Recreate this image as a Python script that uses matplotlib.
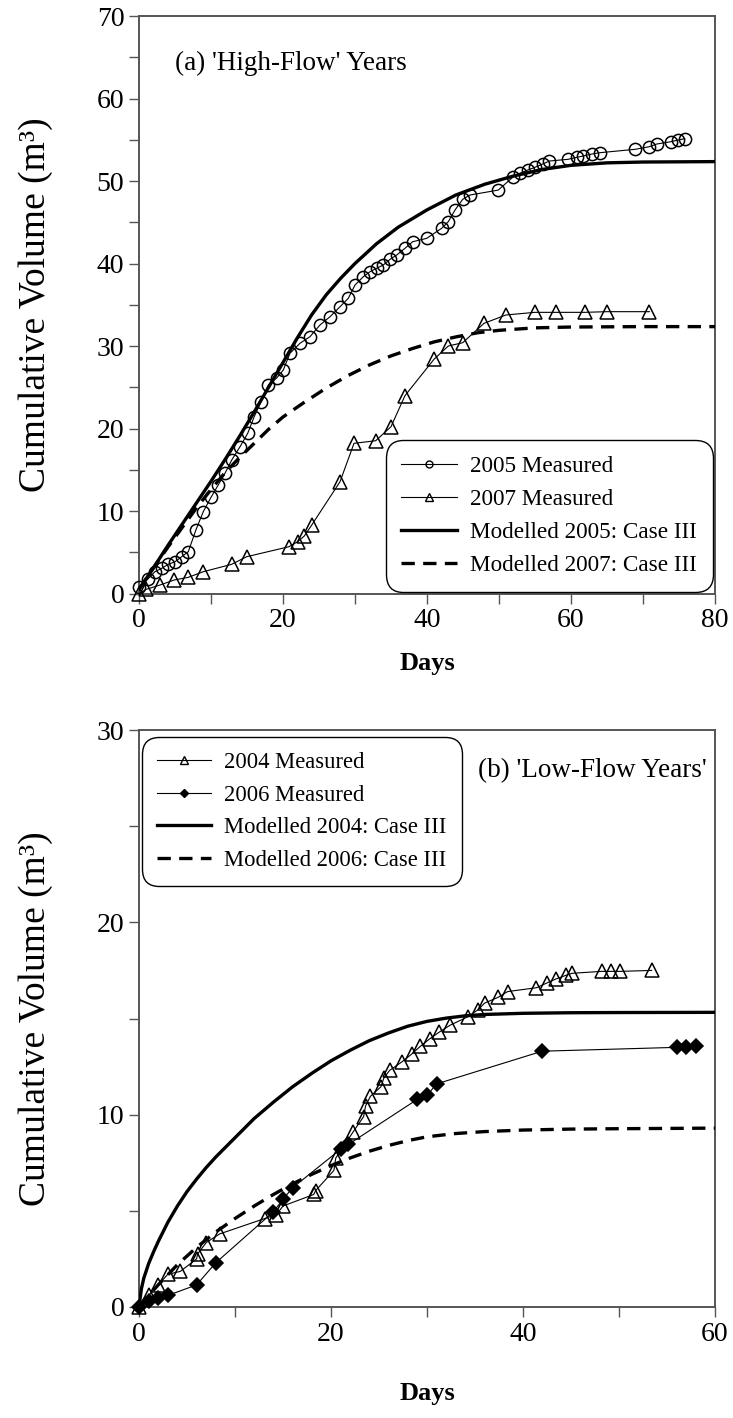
import matplotlib
matplotlib.use("Agg")
import matplotlib.pyplot as plt
from matplotlib.ticker import MultipleLocator
from matplotlib.lines import Line2D

plt.rcParams['font.family'] = ['Liberation Serif', 'DejaVu Serif']

# ---------------- (a) high-flow years ----------------
days_2005 = [0, 1.2, 2.2, 3.15, 4.07, 5.0, 5.93, 6.85, 7.9, 8.93, 10.0, 11.0, 11.94, 12.88,
             14.03, 15.1, 16.0, 16.94, 17.96, 19.1, 20.04, 20.97, 22.36, 23.75, 25.14, 26.53,
             27.92, 29.07, 30.0, 31.15, 32.08, 33.0, 33.93, 34.86, 35.79, 36.94, 38.01, 39.96,
             42.04, 42.96, 43.89, 44.96, 45.97, 49.9, 51.9, 52.9, 54.0, 55.0, 56.07, 57.0,
             59.6, 60.8, 61.7, 62.9, 64.0, 68.9, 70.9, 71.9, 73.85, 74.9, 75.8]
vol_2005 = [0.8, 1.72, 2.64, 3.05, 3.54, 3.85, 4.46, 5.07, 7.7, 9.92, 11.66, 13.15, 14.57, 16.18,
            17.79, 19.42, 21.43, 23.25, 25.27, 26.1, 27.09, 29.12, 30.33, 31.13, 32.55, 33.55,
            34.76, 35.78, 37.39, 38.4, 39.0, 39.42, 39.82, 40.5, 41.03, 41.84, 42.64, 43.05,
            44.27, 45.07, 46.48, 47.78, 48.3, 48.9, 50.45, 50.93, 51.33, 51.66, 52.06, 52.42,
            52.63, 52.87, 53.03, 53.27, 53.43, 53.84, 54.16, 54.48, 54.76, 54.97, 55.13]

days_2007 = [0, 1.0, 2.92, 4.9, 6.85, 8.93, 12.88, 14.96, 20.83, 22.04, 22.96, 23.99, 27.92,
             29.86, 32.88, 35.0, 36.94, 40.97, 42.96, 44.96, 47.92, 50.97, 55.0, 57.9, 61.9,
             64.96, 70.9]
vol_2007 = [0, 0.5, 1.03, 1.64, 1.96, 2.64, 3.54, 4.46, 5.67, 6.28, 6.97, 8.3, 13.55,
            18.2, 18.52, 20.22, 23.98, 28.39, 30.0, 30.4, 32.75, 33.76, 34.08, 34.08, 34.08,
            34.16, 34.16]

mod_days_2005 = [0, 2, 4, 6, 8, 10, 12, 14, 16, 18, 20, 22, 24, 26, 28, 30, 33, 36, 40, 44,
                 48, 52, 56, 60, 65, 70, 80]
mod_vol_2005 = [0.5, 3.1, 5.8, 8.4, 11.0, 13.6, 16.3, 19.1, 22.0, 25.0, 28.0, 31.0, 33.8, 36.2,
                38.2, 40.0, 42.4, 44.4, 46.5, 48.3, 49.6, 50.6, 51.4, 51.9, 52.2, 52.3, 52.35]

mod_days_2007 = [0, 2, 4, 6, 8, 10, 12, 14, 16, 18, 20, 23, 26, 29, 32, 35, 38, 41, 44, 47,
                 50, 55, 60, 70, 80]
mod_vol_2007 = [0.5, 3.1, 5.6, 8.0, 10.4, 12.6, 14.7, 16.5, 18.2, 19.9, 21.4, 23.2, 24.9, 26.4,
                27.7, 28.8, 29.7, 30.5, 31.1, 31.6, 31.9, 32.2, 32.3, 32.35, 32.35]

# ---------------- (b) low-flow years ----------------
days_2004 = [0, 1.0, 2.0, 3.0, 4.3, 6.0, 6.1, 7.0, 8.4, 13.1, 14.3, 15.0, 18.2, 18.4, 20.3,
             20.5, 22.3, 23.4, 23.6, 24.1, 25.2, 25.5, 26.1, 27.4, 28.4, 29.3, 30.3, 31.3,
             32.4, 34.3, 35.3, 36.0, 37.4, 38.4, 41.4, 42.5, 43.4, 44.5, 45.1, 48.2, 49.2,
             50.1, 53.4]
vol_2004 = [0, 0.6, 1.15, 1.7, 1.85, 2.5, 2.75, 3.35, 3.8, 4.6, 4.8, 5.25, 5.85, 6.05, 7.1,
            7.75, 9.1, 9.9, 10.45, 10.95, 11.45, 11.9, 12.3, 12.75, 13.15, 13.55, 13.95, 14.3,
            14.65, 15.1, 15.45, 15.8, 16.1, 16.4, 16.6, 16.85, 17.05, 17.25, 17.35, 17.45,
            17.45, 17.45, 17.5]

days_2006 = [0, 1.0, 2.0, 3.0, 6.0, 8.0, 14.0, 15.0, 16.0, 21.0, 21.8, 29.0, 30.0, 31.0, 42.0,
             56.0, 57.0, 58.0]
vol_2006 = [0, 0.3, 0.45, 0.6, 1.15, 2.3, 4.95, 5.6, 6.2, 8.2, 8.45, 10.8, 11.0, 11.6, 13.3,
            13.5, 13.5, 13.55]

mod_days_2004 = [0, 0.25, 0.5, 1, 1.5, 2, 3, 4, 5, 6, 7, 8, 9, 10, 12, 14, 16, 18, 20, 22,
                 24, 26, 28, 30, 32, 34, 36, 40, 45, 50, 60]
mod_vol_2004 = [0, 0.95, 1.5, 2.25, 2.85, 3.4, 4.4, 5.25, 6.0, 6.65, 7.25, 7.8, 8.3, 8.8, 9.8,
                10.65, 11.45, 12.15, 12.8, 13.35, 13.85, 14.25, 14.6, 14.85, 15.02, 15.14,
                15.21, 15.27, 15.3, 15.31, 15.32]

mod_days_2006 = [0, 2, 4, 6, 8, 10, 12, 14, 16, 18, 20, 22, 24, 26, 28, 30, 33, 36, 40, 45,
                 50, 60]
mod_vol_2006 = [0, 1.15, 2.2, 3.1, 3.9, 4.6, 5.25, 5.85, 6.4, 6.9, 7.35, 7.75, 8.1, 8.4, 8.65,
                8.85, 9.02, 9.12, 9.2, 9.25, 9.27, 9.3]

legend_a = ['2005 Measured', '2007 Measured', 'Modelled 2005: Case III', 'Modelled 2007: Case III']
legend_b = ['2004 Measured', '2006 Measured', 'Modelled 2004: Case III', 'Modelled 2006: Case III']

# ---------------- styling ----------------
W, H = 733, 1418
SPINE = '#555555'
TICK_FS = 20
LABEL_FS = 27
NOTE_FS = 19.5
MOD_LW = 2.4
DASH = (0, (4.0, 2.5))

fig = plt.figure(figsize=(W / 100, H / 100), dpi=100)
ax1 = fig.add_axes([139 / W, 1 - 593.5 / H, 576 / W, 577.5 / H])
ax2 = fig.add_axes([139 / W, 1 - 1307 / H, 576 / W, 577 / H])


def style_axes(ax, xmax, ymax, xmajor, ymajor, xlabel_y):
    ax.set_xlim(0, xmax)
    ax.set_ylim(0, ymax)
    ax.xaxis.set_major_locator(MultipleLocator(xmajor))
    ax.xaxis.set_minor_locator(MultipleLocator(xmajor / 2))
    ax.yaxis.set_major_locator(MultipleLocator(ymajor))
    ax.yaxis.set_minor_locator(MultipleLocator(ymajor / 2))
    for s in ax.spines.values():
        s.set_color(SPINE)
        s.set_linewidth(1.4)
    ax.tick_params(which='both', direction='out', length=7.5, width=1.0, color=SPINE,
                   top=False, right=False)
    ax.tick_params(which='major', labelsize=TICK_FS, pad=3)
    ax.set_xlabel('Days', fontsize=19, fontweight='bold')
    ax.xaxis.set_label_coords(0.5, xlabel_y)
    ax.set_ylabel('Cumulative Volume (m³)', fontsize=LABEL_FS)
    ax.yaxis.set_label_coords(-0.15, 0.5)


def measured(ax, x, y, marker, ms, filled):
    ax.plot(x, y, color='black', lw=0.8, marker=marker, ms=ms,
            mfc='black' if filled else 'none', mec='black', mew=1.1,
            clip_on=False, zorder=4)


def legend_handles(markers):
    hs = []
    for m, ms, filled in markers:
        hs.append(Line2D([], [], color='black', lw=0.8, marker=m, ms=ms,
                         mfc='black' if filled else 'none', mec='black', mew=1.0))
    hs.append(Line2D([], [], color='black', lw=MOD_LW))
    hs.append(Line2D([], [], color='black', lw=MOD_LW, linestyle=DASH))
    return hs


def add_legend(ax, handles, labels, loc, anchor, fs):
    leg = ax.legend(handles, labels, loc=loc, bbox_to_anchor=anchor,
                    bbox_transform=ax.transAxes, borderaxespad=0, fontsize=fs,
                    frameon=True, fancybox=True, framealpha=1, edgecolor='black',
                    handlelength=2.4, handletextpad=0.58, borderpad=0.67,
                    labelspacing=0.51)
    fr = leg.get_frame()
    fr.set_linewidth(1.0)
    fr.set_boxstyle('round,pad=0,rounding_size=0.75')
    leg.set_zorder(10)
    return leg


# panel (a)
style_axes(ax1, 80, 70, 20, 10, -0.101)
ax1.plot(mod_days_2005, mod_vol_2005, color='black', lw=MOD_LW, zorder=3)
ax1.plot(mod_days_2007, mod_vol_2007, color='black', lw=MOD_LW, linestyle=DASH, zorder=3)
measured(ax1, days_2005, vol_2005, 'o', 8.8, False)
measured(ax1, days_2007, vol_2007, '^', 9.6, False)
ax1.text(0.0625, 0.9186, "(a) 'High-Flow' Years", transform=ax1.transAxes,
         fontsize=NOTE_FS, ha='left', va='center')
add_legend(ax1, legend_handles([('o', 5.0, False), ('^', 5.2, False)]), legend_a,
           'lower right', (0.996, 0.003), 16.7)

# panel (b)
style_axes(ax2, 60, 30, 20, 10, -0.13)
ax2.plot(mod_days_2004, mod_vol_2004, color='black', lw=MOD_LW, zorder=3)
ax2.plot(mod_days_2006, mod_vol_2006, color='black', lw=MOD_LW, linestyle=DASH, zorder=3)
measured(ax2, days_2004, vol_2004, '^', 9.6, False)
measured(ax2, days_2006, vol_2006, 'D', 7.2, True)
ax2.text(0.588, 0.93, "(b) 'Low-Flow Years'", transform=ax2.transAxes,
         fontsize=NOTE_FS, ha='left', va='center')
add_legend(ax2, legend_handles([('^', 5.2, False), ('D', 3.6, True)]), legend_b,
           'upper left', (0.0047, 0.988), 16.3)

fig.savefig('out.png', dpi=100)
